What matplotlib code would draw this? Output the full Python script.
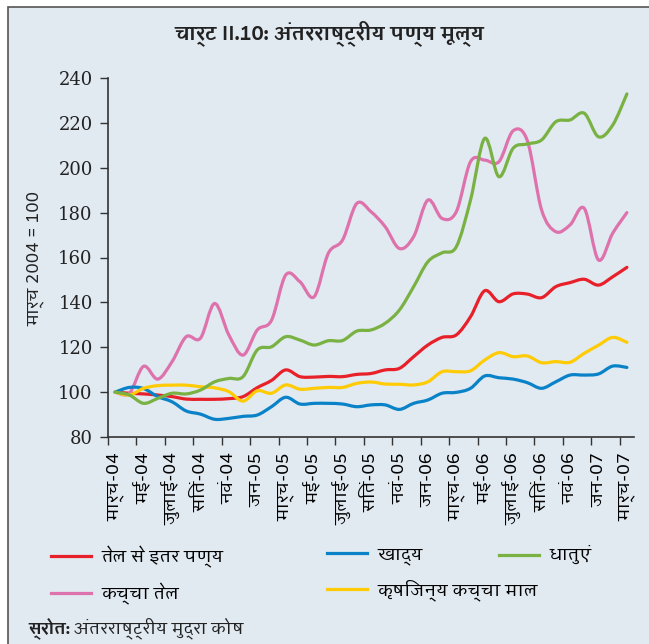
import numpy as np
import matplotlib
matplotlib.use('Agg')
import matplotlib.pyplot as plt
from matplotlib.path import Path
from matplotlib.patches import PathPatch, Rectangle
from matplotlib.lines import Line2D
from matplotlib import font_manager, ft2font


def has_deva(path):
    try:
        return 0x0915 in ft2font.FT2Font(path).get_charmap()
    except Exception:
        return False


# pick a font with Devanagari glyphs, preferably one that has a bold face too
deva = [f for f in font_manager.fontManager.ttflist if has_deva(f.fname)]
bold_names = sorted({f.name for f in deva if f.weight in ('bold', 700, 600, 'semibold')})
names = bold_names or sorted({f.name for f in deva})
fam = names[:1] + ['DejaVu Sans']
plt.rcParams['font.family'] = fam

# data: monthly index, March 2004 = 100 (Mar-04 ... Mar-07)
tick_labels = ['मार्च-04', 'मई-04', 'जुलाई-04', 'सितं-04', 'नवं-04', 'जन-05',
               'मार्च-05', 'मई-05', 'जुलाई-05', 'सितं-05', 'नवं-05', 'जन-06',
               'मार्च-06', 'मई-06', 'जुलाई-06', 'सितं-06', 'नवं-06', 'जन-07', 'मार्च-07']

non_oil = [100, 99.5, 99.2, 98.7, 98.0, 96.9, 96.8, 96.8, 97.1, 98.0, 102.0, 105.2,
           109.9, 106.9, 106.7, 107.0, 106.9, 107.9, 108.3, 109.9, 110.6, 115.8, 121.0,
           124.4, 125.5, 133.6, 145.2, 140.3, 143.8, 143.7, 142.1, 147.0, 148.8, 150.3,
           147.7, 151.4, 155.6]
food = [100, 102.1, 101.6, 98.0, 95.7, 91.6, 90.2, 87.9, 88.3, 89.2, 89.8, 93.5,
        97.7, 94.7, 95.0, 95.0, 94.7, 93.5, 94.3, 94.3, 92.3, 95.0, 96.5, 99.5, 99.9,
        101.7, 107.2, 106.4, 105.8, 104.2, 101.7, 104.6, 107.6, 107.6, 108.1, 111.6, 111.0]
metals = [100, 98.7, 95.0, 97.2, 99.5, 99.2, 100.9, 104.6, 106.1, 106.9, 118.8, 120.2,
          124.7, 123.2, 121.0, 122.9, 123.0, 127.2, 127.7, 130.7, 136.6, 147.0, 158.1,
          162.1, 164.8, 185.6, 213.1, 196.0, 208.7, 210.6, 212.4, 220.5, 221.3, 224.3,
          213.8, 219.0, 232.9]
crude = [100, 99.5, 111.5, 105.8, 113.5, 124.7, 124.0, 139.5, 125.5, 116.5, 127.7, 132.0,
         152.2, 149.2, 142.5, 161.9, 167.8, 184.1, 180.4, 173.7, 164.0, 169.3, 185.6,
         177.4, 180.4, 202.7, 203.4, 202.7, 216.5, 212.0, 181.2, 171.5, 174.5, 181.9,
         158.9, 170.8, 180.0]
agri = [100, 98.7, 101.7, 102.9, 103.1, 103.1, 102.4, 101.9, 100.2, 96.0, 100.6, 99.5,
        103.2, 101.3, 101.7, 102.1, 102.1, 103.9, 104.5, 103.6, 103.5, 103.2, 104.6,
        109.1, 109.1, 109.5, 114.3, 117.6, 115.8, 116.1, 113.1, 113.6, 113.3, 117.3,
        120.9, 124.4, 122.2]

series = [
    ('तेल से इतर पण्य', non_oil, '#E8202A'),
    ('कच्चा तेल', crude, '#DE72AC'),
    ('खाद्य', food, '#0A82C8'),
    ('कृषिजन्य कच्चा माल', agri, '#FFCB05'),
    ('धातुएं', metals, '#79B243'),
]


def smooth_path(x, y):
    # cubic bezier through the points (like a spreadsheet "smoothed line")
    p = np.column_stack([x, y])
    n = len(p)
    verts = [p[0]]
    codes = [Path.MOVETO]
    for i in range(n - 1):
        a = p[i - 1] if i > 0 else p[i]
        b = p[i + 2] if i + 2 < n else p[i + 1]
        c1 = p[i] + (p[i + 1] - a) / 6
        c2 = p[i + 1] - (b - p[i]) / 6
        verts += [c1, c2, p[i + 1]]
        codes += [Path.CURVE4] * 3
    return Path(verts, codes)


bg = '#E1E9F1'
fig = plt.figure(figsize=(6.49, 6.44), dpi=100, facecolor='white')
fig.patches.append(Rectangle((8 / 649, -0.02), 1.0, 1 - 7 / 644 + 0.02,
                             transform=fig.transFigure, facecolor=bg,
                             edgecolor='#555555', linewidth=1.2, zorder=-10))

ax = fig.add_axes([108 / 649, 1 - 437 / 644, 526 / 649, 359 / 644])
ax.set_facecolor('none')

x = np.arange(len(non_oil))
handles = {}
for name, vals, col in series:
    ax.add_patch(PathPatch(smooth_path(x, vals), fill=False, edgecolor=col,
                           linewidth=2.3, capstyle='round', joinstyle='round'))
    handles[name] = Line2D([], [], color=col, linewidth=2.3)

ax.set_xlim(-0.5, len(x) - 0.5)
ax.set_ylim(80, 240)
ax.set_yticks(range(80, 241, 20))
ax.set_xticks(np.arange(-0.5, len(x) - 1, 2))
ax.set_xticklabels([])
ax.set_xticks(np.arange(0, len(x), 2), minor=True)
ax.set_xticklabels(tick_labels, minor=True, rotation=90, fontsize=12.5)
ax.tick_params(axis='x', which='minor', length=0, pad=11)
ax.tick_params(axis='x', which='major', length=6, width=1, color='#333333')
ax.tick_params(axis='y', length=6, width=1, color='#333333', pad=5)
for lab in ax.get_yticklabels():
    lab.set_family('DejaVu Serif')
    lab.set_fontsize(13)
    lab.set_color('#222222')
for s in ['top', 'right']:
    ax.spines[s].set_visible(False)
for s in ['left', 'bottom']:
    ax.spines[s].set_color('#333333')
    ax.spines[s].set_linewidth(1.2)

fig.text(0.508, 1 - 33 / 644, 'चार्ट II.10: अंतरराष्ट्रीय पण्य मूल्य', ha='center',
         va='center', fontsize=14, fontweight='bold', color='#222222')
fig.text(36 / 649, 1 - 258 / 644, 'मार्च 2004 = 100', rotation=90, ha='center',
         va='center', fontsize=12, color='#222222')

cols = [(51, ['तेल से इतर पण्य', 'कच्चा तेल']),
        (327, ['खाद्य', 'कृषिजन्य कच्चा माल']),
        (499, ['धातुएं'])]
for xpx, labels in cols:
    fig.legend([handles[n] for n in labels], labels, loc='upper left',
               bbox_to_anchor=(xpx / 649, 1 - 546 / 644), frameon=False,
               fontsize=12.4, handlelength=2.3, handletextpad=0.6, labelspacing=0.85,
               borderaxespad=0, borderpad=0)

src = fig.text(28 / 649, 1 - 628 / 644, 'स्रोत:', ha='left', va='center', fontsize=12,
               fontweight='bold', color='#222222')
ax.annotate('अंतरराष्ट्रीय मुद्रा कोष', xy=(1, 0.5), xycoords=src, xytext=(3, 0),
            textcoords='offset points', ha='left', va='center', fontsize=12,
            color='#222222', annotation_clip=False)

fig.savefig('out.png', dpi=100, facecolor='white')
